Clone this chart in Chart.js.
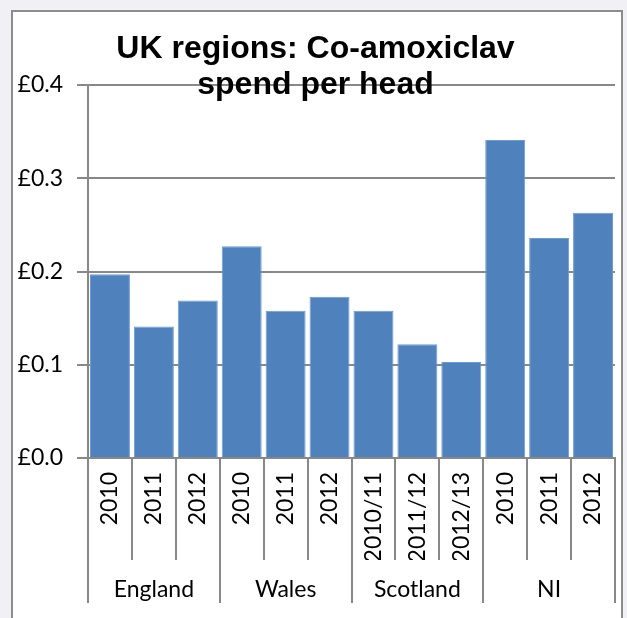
<!DOCTYPE html>
<html>
<head>
<meta charset="utf-8">
<script src="https://cdn.jsdelivr.net/npm/chart.js@4/dist/chart.umd.min.js"></script>
<style>
  html, body { margin: 0; padding: 0; background: #f0f0f5; }
  #frame {
    position: absolute; left: 11px; top: 10px; width: 608px; height: 640px;
    background: #fff; border: 2px solid #8c8c8c;
  }
  #wrap { position: absolute; left: 0; top: 0; width: 627px; height: 618px; }
</style>
</head>
<body>
<div id="frame"></div>
<div id="wrap"><canvas id="chart" width="627" height="618"></canvas></div>
<script>
// categories: year under each region
const years = ['2010', '2011', '2012', '2010', '2011', '2012', '2010/11', '2011/12', '2012/13', '2010', '2011', '2012'];
const regions = ['England', 'Wales', 'Scotland', 'NI'];
// spend per head (£)
const spend = [0.197, 0.141, 0.169, 0.227, 0.158, 0.173, 0.158, 0.122, 0.103, 0.341, 0.236, 0.263];
const yTicks = [0, 0.1, 0.2, 0.3, 0.4];

const axisGrey = '#888888';
const labelFont = { family: 'Lato', size: 23 };

const ctx = document.getElementById('chart').getContext('2d');
const chart = new Chart(ctx, {
    type: 'bar',
    data: {
        labels: years,
        datasets: [{
            data: spend,
            backgroundColor: '#4f81bd',
            borderColor: '#6c9cd8',
            borderWidth: 1,
            barPercentage: 0.91,
            categoryPercentage: 1
        }]
    },
    options: {
        responsive: false,
        animation: false,
        layout: { padding: { left: 16, right: 12, top: 0, bottom: 0 } },
        plugins: {
            legend: { display: false },
            title: {
                display: true,
                text: ['UK regions: Co-amoxiclav', 'spend per head'],
                color: '#000',
                font: { family: 'Liberation Sans', size: 32, weight: 'bold', lineHeight: 1.1 },
                padding: { top: 32, bottom: -17.4 }
            },
            tooltip: {
                callbacks: {
                    label: function(item) {
                        return '£' + item.raw.toFixed(3);
                    }
                }
            }
        },
        scales: {
            y: {
                min: 0,
                max: 0.4,
                afterFit: function(scale) { scale.width = 72; },
                afterBuildTicks: function(scale) {
                    scale.ticks = yTicks.map(v => ({ value: v }));
                },
                ticks: {
                    color: '#000',
                    font: labelFont,
                    padding: 14,
                    callback: v => '£' + Number(v).toFixed(1)
                },
                grid: { color: axisGrey, lineWidth: 2, tickLength: 11 },
                border: { color: axisGrey, width: 2 }
            },
            x: {
                weight: 0,
                afterFit: function(scale) { scale.height = 102; },
                ticks: {
                    color: '#000',
                    font: labelFont,
                    autoSkip: false,
                    minRotation: 90,
                    maxRotation: 90,
                    padding: -88
                },
                grid: { drawOnChartArea: false, offset: true, color: axisGrey, lineWidth: 2, tickLength: 102 },
                border: { color: axisGrey, width: 2 }
            },
            x2: {
                type: 'category',
                position: 'bottom',
                weight: 1,
                labels: regions,
                offset: true,
                afterFit: function(scale) { scale.height = 58; },
                ticks: { color: '#000', font: labelFont, padding: -27 },
                grid: { drawOnChartArea: false, offset: true, color: axisGrey, lineWidth: 2, tickLength: 43 },
                border: { display: false }
            }
        }
    }
});
</script>
</body>
</html>
